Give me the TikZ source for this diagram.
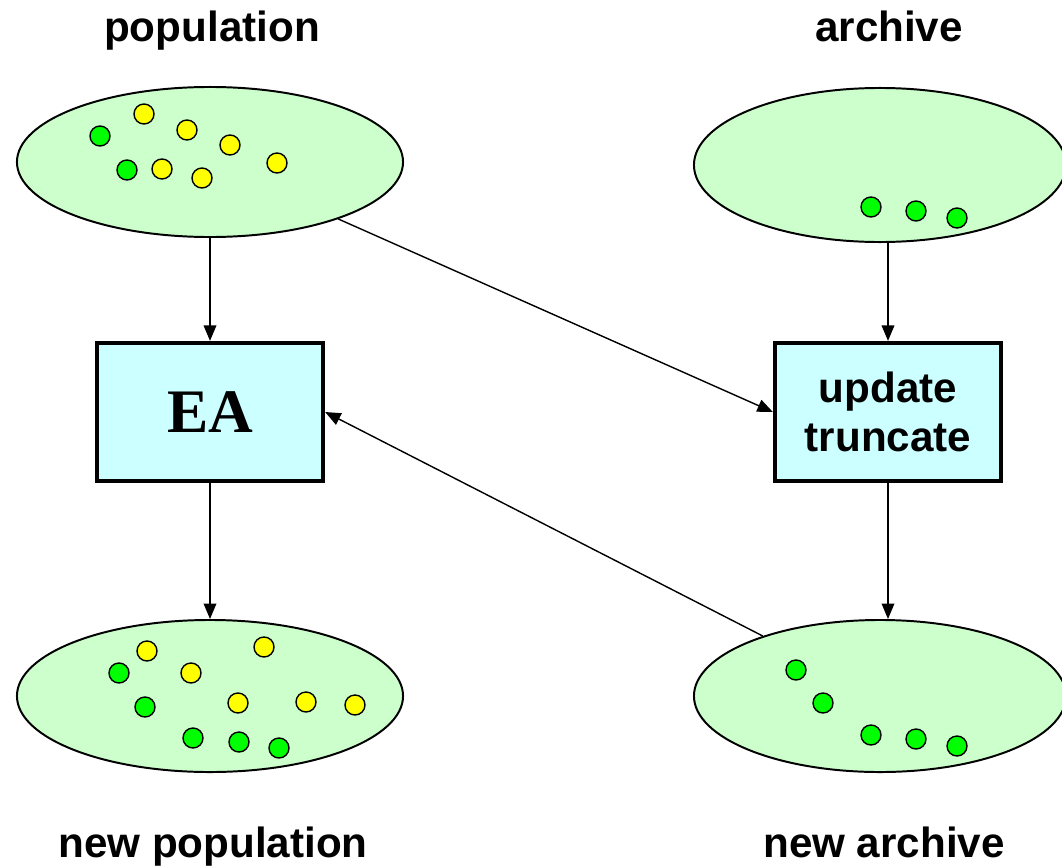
\documentclass[tikz,border=0pt]{standalone}
\usepackage{fontspec}
\setmainfont{Liberation Sans}
\newfontfamily\timesfont{Liberation Serif}
\usetikzlibrary{shapes.geometric,arrows.meta}
\definecolor{setgreen}{HTML}{CCFFCC}
\definecolor{boxcyan}{HTML}{CCFFFF}
\definecolor{dotgreen}{HTML}{00FF00}
\definecolor{dotyellow}{HTML}{FFFF00}
\tikzset{
  pool/.style={ellipse,draw,line width=1.4pt,fill=setgreen,inner sep=0pt},
  stage/.style={rectangle,draw,line width=3pt,fill=boxcyan,minimum width=5.65cm,minimum height=3.45cm,align=center},
  title/.style={anchor=base,font=\fontsize{30}{34}\selectfont\bfseries},
  flow/.style={line width=1pt,-{Triangle[length=11pt,width=9pt]}},
  gdot/.style={draw,line width=1pt,fill=dotgreen},
  ydot/.style={draw,line width=1pt,fill=dotyellow}
}
\begin{document}
\begin{tikzpicture}[x=0.025cm,y=-0.025cm]
\useasboundingbox (0,0) rectangle (1062,867);
% sets
\node[pool,minimum width=9.65cm,minimum height=3.75cm] (pop) at (210,162) {};
\node[pool,minimum width=9.3cm,minimum height=3.85cm] (arc) at (880,165) {};
\node[pool,minimum width=9.65cm,minimum height=3.8cm] (npop) at (210,696) {};
\node[pool,minimum width=9.3cm,minimum height=3.8cm] (narc) at (880,696) {};
% boxes
\node[stage,font=\timesfont\fontsize{44}{48}\selectfont\bfseries] (ea) at (210,412) {EA};
\node[stage,font=\fontsize{30}{35}\selectfont\bfseries] (upd) at (888,412) {update\\truncate};
% labels
\node[title] (popl) at (212,42) {population};
\node[title] (arcl) at (889,42) {archive};
\node[title] (npopl) at (213,857) {new population};
\node[title] (narcl) at (884,857) {new archive};
% individuals in population
\filldraw[gdot] (100,136) circle (10);
\filldraw[gdot] (127,170) circle (10);
\filldraw[ydot] (144,114) circle (10);
\filldraw[ydot] (187,130) circle (10);
\filldraw[ydot] (230,145) circle (10);
\filldraw[ydot] (162,169) circle (10);
\filldraw[ydot] (202,178) circle (10);
\filldraw[ydot] (277,163) circle (10);
% archive
\filldraw[gdot] (871,207) circle (10);
\filldraw[gdot] (916,211) circle (10);
\filldraw[gdot] (957,218) circle (10);
% new population
\filldraw[ydot] (147,651) circle (10);
\filldraw[ydot] (264,647) circle (10);
\filldraw[gdot] (119,673) circle (10);
\filldraw[ydot] (191,673) circle (10);
\filldraw[gdot] (145,707) circle (10);
\filldraw[ydot] (238,703) circle (10);
\filldraw[ydot] (306,702) circle (10);
\filldraw[ydot] (355,705) circle (10);
\filldraw[gdot] (193,738) circle (10);
\filldraw[gdot] (239,742) circle (10);
\filldraw[gdot] (279,748) circle (10);
% new archive
\filldraw[gdot] (796,670) circle (10);
\filldraw[gdot] (823,703) circle (10);
\filldraw[gdot] (871,735) circle (10);
\filldraw[gdot] (916,739) circle (10);
\filldraw[gdot] (957,746) circle (10);
% flows
\draw[flow] (pop.south) -- (ea.north);
\draw[flow] (ea.south) -- (npop.north);
\draw[flow] (arc.south -| upd.north) -- (upd.north);
\draw[flow] (upd.south) -- (narc.north -| upd.south);
\draw[flow] (pop) -- (upd.west);
\draw[flow] (narc) -- (ea.east);
\end{tikzpicture}
\end{document}
